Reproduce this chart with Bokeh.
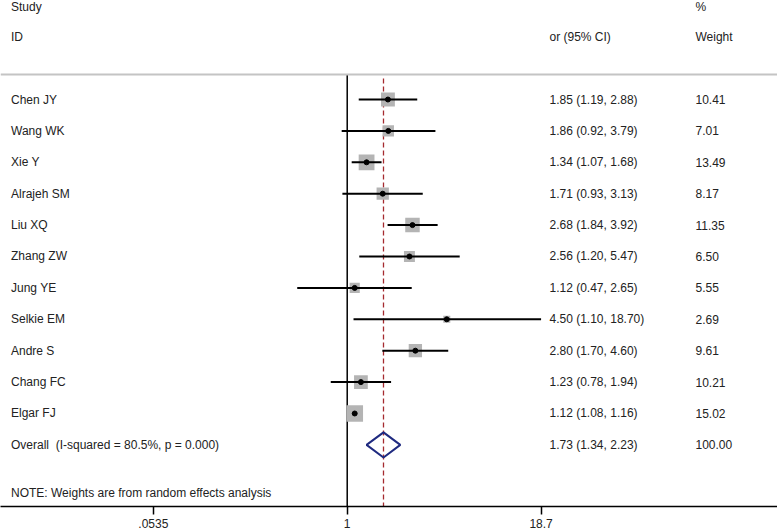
import math
from bokeh.plotting import figure
from bokeh.models import Range1d, FixedTicker, Span, LinearScale
from bokeh.core.properties import value
from bokeh.embed import file_html
from bokeh.resources import INLINE

# ---------------- data ----------------
studies = ["Chen JY", "Wang WK", "Xie Y", "Alrajeh SM", "Liu XQ", "Zhang ZW",
           "Jung YE", "Selkie EM", "Andre S", "Chang FC", "Elgar FJ"]
or_vals = [1.85, 1.86, 1.34, 1.71, 2.68, 2.56, 1.12, 4.50, 2.80, 1.23, 1.12]
ci_lo = [1.19, 0.92, 1.07, 0.93, 1.84, 1.20, 0.47, 1.10, 1.70, 0.78, 1.08]
ci_hi = [2.88, 3.79, 1.68, 3.13, 3.92, 5.47, 2.65, 18.70, 4.60, 1.94, 1.16]
weights = [10.41, 7.01, 13.49, 8.17, 11.35, 6.50, 5.55, 2.69, 9.61, 10.21, 15.02]

overall_label = "Overall\u00a0 (I-squared = 80.5%, p = 0.000)"
overall_or = 1.73
overall_lo = 1.34
overall_hi = 2.23
overall_weight = 100.00

note = "NOTE: Weights are from random effects analysis"
tick_vals = [0.0535, 1, 18.7]
tick_labels = [".0535", "1", "18.7"]

# ---------------- layout constants ----------------
FONT = "Liberation Sans"
FS = "12px"
TXT = "#222222"
n = len(studies)
rows = list(range(n))
overall_row = n
Y_TOP = -3.153
Y_BOT = 12.962

p = figure(frame_width=777, frame_height=506, min_border=0,
           x_axis_type="log", output_backend="svg", toolbar_location=None,
           x_range=Range1d(0.005314, 665.1), y_range=Range1d(Y_BOT, Y_TOP))
p.outline_line_color = None
p.grid.visible = False
p.yaxis.visible = False
p.background_fill_color = "white"
p.border_fill_color = "white"
p.extra_x_ranges = {"px": Range1d(0, 777)}
p.extra_x_scales = {"px": LinearScale()}

ax = p.xaxis[0]
ax.ticker = FixedTicker(ticks=tick_vals, minor_ticks=[])
ax.major_label_overrides = {v: l for v, l in zip(tick_vals, tick_labels)}
ax.axis_line_width = 1.5
ax.axis_line_color = "black"
ax.major_tick_line_color = "black"
ax.major_tick_line_width = 1.5
ax.major_tick_out = 8
ax.major_tick_in = 0
ax.minor_tick_line_color = None
ax.major_label_standoff = 4
ax.major_label_text_font = FONT
ax.major_label_text_font_size = FS
ax.major_label_text_color = TXT

# separator line
p.add_layout(Span(location=-0.80, dimension="width", line_color="#c4c4c4", line_width=2))

# null line at 1
p.segment(x0=[1], x1=[1], y0=[-0.80], y1=[Y_BOT], line_color="black", line_width=1.5)
# overall dashed line
p.segment(x0=[overall_or], x1=[overall_or], y0=[-0.67], y1=[Y_BOT],
          line_color="#a52a2f", line_width=1.3, line_dash="5 3")

# weight boxes
sizes = [4.3 * math.sqrt(w) for w in weights]
p.scatter(x=or_vals, y=rows, size=sizes, marker="square",
          fill_color="#b4b4b4", line_color=None)
# CIs
p.segment(x0=ci_lo, x1=ci_hi, y0=rows, y1=rows, line_color="black", line_width=2)
# point estimates
p.scatter(x=or_vals, y=rows, size=5, marker="circle", fill_color="black", line_color="black")

# diamond
h = 0.40
p.patch(x=[overall_lo, overall_or, overall_hi, overall_or],
        y=[overall_row, overall_row - h, overall_row, overall_row + h],
        fill_color=None, line_color="#1f2a80", line_width=2)

# texts
def txt(xs, ys, labels):
    p.text(x=xs, y=ys, text=labels, x_range_name="px",
           text_font=value(FONT), text_font_size=FS, text_color=TXT,
           text_baseline="middle", text_align="left")

all_rows = rows + [overall_row]
txt([10.5] * (n + 1), all_rows, studies + [overall_label])
txt([549] * (n + 1), all_rows,
    [f"{o:.2f} ({l:.2f}, {u:.2f})" for o, l, u in zip(or_vals, ci_lo, ci_hi)]
    + [f"{overall_or:.2f} ({overall_lo:.2f}, {overall_hi:.2f})"])
txt([695] * (n + 1), all_rows, [f"{w:.2f}" for w in weights] + [f"{overall_weight:.2f}"])
# headers
txt([10.5, 695], [-2.95, -2.95], ["Study", "%"])
txt([10.5, 549, 695], [-2.0, -2.0, -2.0], ["ID", "or (95% CI)", "Weight"])
txt([10.5], [12.52], [note])

open("out.html", "w").write(file_html(p, INLINE))
